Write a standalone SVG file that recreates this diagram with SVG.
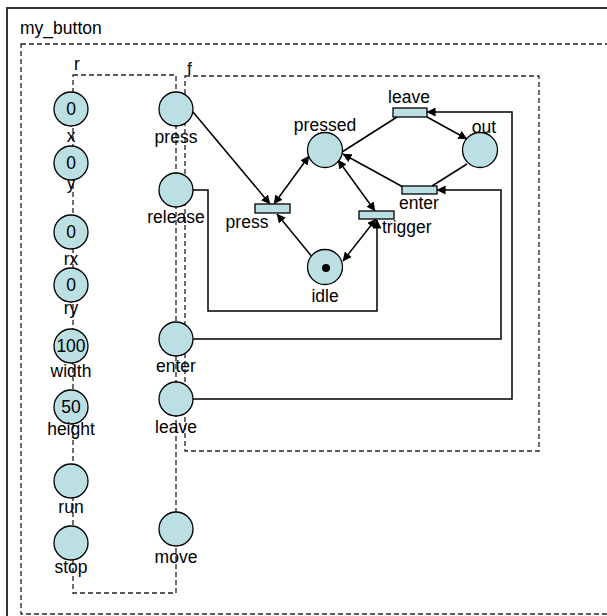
<svg xmlns="http://www.w3.org/2000/svg" width="607" height="616" viewBox="0 0 607 616">
<style>
text{font-family:"Liberation Sans",Arial,sans-serif;font-size:17.5px;fill:#000}
.m{text-anchor:middle}
.pl{fill:#bbdfe2;stroke:#000;stroke-width:1.3}
.tr{fill:#bbdfe2;stroke:#000;stroke-width:1.3}
.dash{fill:none;stroke:#222;stroke-width:1.3;stroke-dasharray:5 3}
.arc{fill:none;stroke:#000;stroke-width:1.5}
</style>
<defs>
<marker id="ah" viewBox="0 0 10 10" refX="9.5" refY="5" markerWidth="9" markerHeight="9" markerUnits="userSpaceOnUse" orient="auto-start-reverse">
<path d="M0,0 L10,5 L0,10 z" fill="#000"/>
</marker>
</defs>
<rect width="607" height="616" fill="#fff"/>
<g id="frame">
<path d="M7,620 V8 H612" fill="none" stroke="#333" stroke-width="2"/>
<text x="20" y="34">my_button</text>
<rect class="dash" x="21" y="44" width="600" height="570"/>
</g>
<g id="r">
<rect class="dash" x="73" y="75" width="103" height="518"/>
<text class="m" x="77" y="70">r</text>
</g>
<g id="f">
<rect class="dash" x="185" y="76" width="354" height="375"/>
<text x="187" y="75">f</text>
</g>
<g id="connectors">
<line class="arc" x1="193" y1="112" x2="270" y2="204" marker-end="url(#ah)"/>
<line class="arc" x1="274" y1="204" x2="309" y2="156" marker-start="url(#ah)" marker-end="url(#ah)"/>
<line class="arc" x1="313" y1="258" x2="277" y2="214" marker-end="url(#ah)"/>
<line class="arc" x1="338" y1="160" x2="375" y2="211" marker-start="url(#ah)" marker-end="url(#ah)"/>
<line class="arc" x1="376" y1="219" x2="343" y2="261" marker-start="url(#ah)" marker-end="url(#ah)"/>
<polyline class="arc" points="193,190 208,190 208,311 377,311 377,220" marker-end="url(#ah)"/>
<line class="arc" x1="342" y1="152" x2="397" y2="117"/>
<line class="arc" x1="427" y1="117" x2="467" y2="139" marker-end="url(#ah)"/>
<line class="arc" x1="467" y1="164" x2="432" y2="186"/>
<line class="arc" x1="403" y1="187" x2="343" y2="154" marker-end="url(#ah)"/>
<polyline class="arc" points="193,339 501,339 501,190 437,190" marker-end="url(#ah)"/>
<polyline class="arc" points="193,399 512,399 512,112 427,112" marker-end="url(#ah)"/>
</g>
<g id="p_x"><circle class="pl" cx="71" cy="109" r="17"/><text class="m" x="71" y="115">0</text><text class="m" x="71" y="142">x</text></g>
<g id="p_y"><circle class="pl" cx="71" cy="163" r="17"/><text class="m" x="71" y="169">0</text><text class="m" x="71" y="189">y</text></g>
<g id="p_rx"><circle class="pl" cx="71" cy="232" r="17"/><text class="m" x="71" y="238">0</text><text class="m" x="71" y="265">rx</text></g>
<g id="p_ry"><circle class="pl" cx="71" cy="285" r="17"/><text class="m" x="71" y="291">0</text><text class="m" x="71" y="314">ry</text></g>
<g id="p_width"><circle class="pl" cx="71" cy="346" r="17"/><text class="m" x="71" y="352">100</text><text class="m" x="71" y="377">width</text></g>
<g id="p_height"><circle class="pl" cx="71" cy="407" r="17"/><text class="m" x="71" y="413">50</text><text class="m" x="71" y="435">height</text></g>
<g id="p_run"><circle class="pl" cx="71" cy="481" r="17"/><text class="m" x="71" y="513">run</text></g>
<g id="p_stop"><circle class="pl" cx="71" cy="543" r="17"/><text class="m" x="71" y="573">stop</text></g>
<g id="p_press"><circle class="pl" cx="176" cy="109" r="17"/><text class="m" x="176" y="143">press</text></g>
<g id="p_release"><circle class="pl" cx="176" cy="190" r="17"/><text class="m" x="176" y="223">release</text></g>
<g id="p_enter"><circle class="pl" cx="176" cy="339" r="17"/><text class="m" x="176" y="372">enter</text></g>
<g id="p_leave"><circle class="pl" cx="176" cy="399" r="17"/><text class="m" x="176" y="433">leave</text></g>
<g id="p_move"><circle class="pl" cx="176" cy="529" r="17"/><text class="m" x="176" y="563">move</text></g>
<g id="p_pressed"><circle class="pl" cx="325" cy="150" r="17.5"/><text class="m" x="325" y="131">pressed</text></g>
<g id="p_out"><circle class="pl" cx="480" cy="150" r="17.5"/><text class="m" x="484" y="133">out</text></g>
<g id="p_idle"><circle class="pl" cx="325" cy="267" r="17.5"/><circle cx="326" cy="268" r="4" fill="#000"/><text class="m" x="325" y="302">idle</text></g>
<g id="t_leave"><rect class="tr" x="393" y="108" width="34" height="9"/><text class="m" x="409" y="103">leave</text></g>
<g id="t_enter"><rect class="tr" x="402" y="186" width="35" height="8"/><text class="m" x="419" y="209">enter</text></g>
<g id="t_press"><rect class="tr" x="255" y="204" width="35" height="9"/><text class="m" x="247" y="228">press</text></g>
<g id="t_trigger"><rect class="tr" x="359" y="211" width="35" height="8"/><text x="382" y="233">trigger</text></g>
</svg>
